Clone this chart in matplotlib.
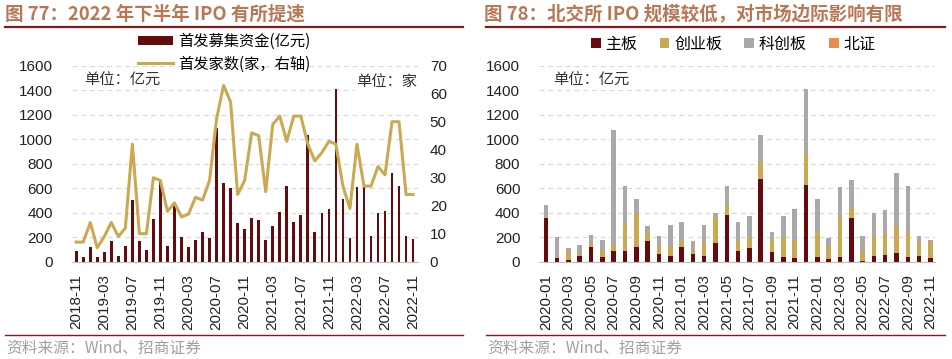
import matplotlib
matplotlib.use("Agg")
import matplotlib.pyplot as plt
from matplotlib.patches import Patch
from matplotlib.lines import Line2D
import numpy as np

plt.rcParams['font.family'] = ['Liberation Sans', 'Noto Sans CJK SC', 'DejaVu Sans']
CJK = ['Noto Sans CJK SC', 'DejaVu Sans']

# ---------------- data: chart 77 ----------------
months77 = [f"{y}-{m:02d}" for y in range(2018, 2023) for m in range(1, 13)
            if (y, m) >= (2018, 11) and (y, m) <= (2022, 11)]
ipo_amount = [90, 41, 122, 35, 82, 171, 49, 128, 503, 171, 95, 345, 647, 128,
              470, 204, 122, 177, 245, 190, 1093, 639, 598, 318, 264, 354, 340,
              177, 294, 403, 620, 326, 381, 1034, 245, 400, 427, 1406, 511, 190,
              607, 631, 209, 394, 416, 721, 617, 209, 182]
ipo_count = [7, 7, 14, 5, 9, 14, 9, 12, 42, 10, 10, 30, 29, 18, 21, 16, 17, 23,
             22, 29, 51, 63, 57, 24, 29, 46, 45, 25, 49, 52, 43, 52, 52, 42, 36,
             39, 43, 42, 27, 19, 42, 27, 27, 34, 31, 50, 50, 24, 24]

# ---------------- data: chart 78 ----------------
months78 = [f"{y}-{m:02d}" for y in range(2020, 2023) for m in range(1, 13)
            if (y, m) <= (2022, 11)]
main_board = [355, 27, 14, 44, 117, 35, 90, 90, 117, 167, 63, 44, 117, 63, 49,
              150, 382, 90, 109, 672, 76, 41, 27, 628, 35, 25, 41, 355, 8, 49,
              55, 71, 41, 44, 30]
chinext = [10, 5, 68, 19, 28, 55, 47, 224, 279, 65, 68, 87, 55, 27, 107,
           213, 82, 90, 96, 142, 110, 164, 150, 254, 205, 106, 322, 90, 68, 164,
           172, 224, 199, 114, 142]
star = [94, 168, 27, 73, 73, 90, 936, 303, 117, 57, 82, 172, 156, 82, 144,
        36, 150, 142, 172, 218, 60, 166, 249, 524, 273, 63, 246, 218, 131, 183,
        191, 428, 369, 55, 8]
bse = [0, 0, 0, 0, 0, 0, 0, 0, 0, 0, 0, 0, 0, 0, 0,
       0, 0, 0, 0, 0, 0, 0, 3, 0, 2, 0, 0, 2, 0, 5,
       0, 0, 8, 0, 0]

DARK = '#650B0E'
GOLD = '#C9AA52'
GREY = '#A9A9A9'
ORANGE = '#E88D4A'
TITLE_C = '#B97756'
RULE_C = '#7E1B1B'
TICK_C = '#222222'

W, H = 952, 359
fig = plt.figure(figsize=(W / 100, H / 100), dpi=100)

def fx(px):
    return px / W

def fy(py):
    return 1 - py / H

def style_axes(ax):
    for s in ['top', 'left', 'right']:
        ax.spines[s].set_visible(False)
    ax.spines['bottom'].set_color('#BFBFBF')
    ax.spines['bottom'].set_linewidth(0.8)
    ax.grid(axis='y', color='#D9D9D9', linestyle=(0, (4, 3)), linewidth=0.9)
    ax.set_axisbelow(True)
    ax.tick_params(axis='both', length=0, labelsize=11, colors=TICK_C)
    ax.tick_params(axis='y', pad=13.5)
    ax.tick_params(axis='x', pad=9)

# ---------- left chart ----------
ax1 = fig.add_axes([fx(72), fy(261.7), fx(346), (261.7 - 65.7) / H])
x1 = np.arange(len(months77))
ax1.bar(x1, ipo_amount, width=0.38, color=DARK, zorder=2)
ax1.set_ylim(0, 1600)
ax1.set_yticks(np.arange(0, 1601, 200))
ax1.set_xlim(-0.6, len(months77) - 0.3)
ax1.set_xticks(x1[::4])
ax1.set_xticklabels(months77[::4], rotation=90)
style_axes(ax1)

ax1b = ax1.twinx()
ax1b.plot(x1, ipo_count, color=GOLD, linewidth=2.2, zorder=3)
ax1b.set_ylim(0, 70)
ax1b.set_yticks(np.arange(0, 71, 10))
for s in ['top', 'left', 'right', 'bottom']:
    ax1b.spines[s].set_visible(False)
ax1b.tick_params(axis='y', length=0, labelsize=11, colors=TICK_C, pad=8.5)

ax1.text(0.035, 0.925, '单位：亿元', transform=ax1.transAxes, fontsize=11,
         family=CJK, color='#333333', va='center', ha='left',
         bbox=dict(facecolor='white', edgecolor='none', pad=1), zorder=4)
ax1b.text(0.998, 0.92, '单位：家', transform=ax1.transAxes, fontsize=11,
          family=CJK, color='#333333', va='center', ha='right',
          bbox=dict(facecolor='white', edgecolor='none', pad=1), zorder=4)

h1 = [Patch(facecolor=DARK, edgecolor='none'),
      Line2D([0], [0], color=GOLD, linewidth=2.2)]
fig.legend(h1, ['首发募集资金(亿元)', '首发家数(家，右轴)'],
           loc='upper left', bbox_to_anchor=(fx(138), fy(33)),
           frameon=False, prop={'family': CJK, 'size': 11},
           handlelength=2.3, handleheight=0.5, handletextpad=0.3,
           labelspacing=0.35, borderpad=0, borderaxespad=0)

# ---------- right chart ----------
ax2 = fig.add_axes([fx(539), fy(261.7), fx(396), (261.7 - 65.7) / H])
x2 = np.arange(len(months78))
mb = np.array(main_board)
cn = np.array(chinext)
st = np.array(star)
bs = np.array(bse)
ax2.bar(x2, mb, width=0.4, color=DARK, zorder=2, label='主板')
ax2.bar(x2, cn, width=0.4, bottom=mb, color=GOLD, zorder=2, label='创业板')
ax2.bar(x2, st, width=0.4, bottom=mb + cn, color=GREY, zorder=2, label='科创板')
ax2.bar(x2, bs, width=0.4, bottom=mb + cn + st, color=ORANGE, zorder=2, label='北证')
ax2.set_ylim(0, 1600)
ax2.set_yticks(np.arange(0, 1601, 200))
ax2.set_xlim(-0.6, len(months78) - 0.6)
ax2.set_xticks(x2[::2])
ax2.set_xticklabels(months78[::2], rotation=90)
style_axes(ax2)
ax2.text(0.035, 0.925, '单位：亿元', transform=ax2.transAxes, fontsize=11,
         family=CJK, color='#333333', va='center', ha='left',
         bbox=dict(facecolor='white', edgecolor='none', pad=1), zorder=4)

h2 = [Patch(facecolor=c, edgecolor='none') for c in [DARK, GOLD, GREY, ORANGE]]
fig.legend(h2, ['主板', '创业板', '科创板', '北证'], ncol=4,
           loc='upper left', bbox_to_anchor=(fx(591), fy(36)),
           frameon=False, prop={'family': CJK, 'size': 11.5},
           handlelength=0.6, handleheight=0.6, handletextpad=0.3,
           columnspacing=1.4, borderpad=0, borderaxespad=0)

# ---------- titles, rules, sources ----------
fig.text(fx(5), fy(14), '图 77：2022 年下半年 IPO 有所提速', fontsize=13.3,
         fontweight='bold', color=TITLE_C, family=CJK, va='center', ha='left')
fig.text(fx(484), fy(14), '图 78：北交所 IPO 规模较低，对市场边际影响有限', fontsize=13.3,
         fontweight='bold', color=TITLE_C, family=CJK, va='center', ha='left')
for (a, b) in [(5, 463), (486, 945)]:
    fig.add_artist(Line2D([fx(a), fx(b)], [fy(27), fy(27)], color=RULE_C, linewidth=1.6))
    fig.add_artist(Line2D([fx(a), fx(b)], [fy(335), fy(335)], color=RULE_C, linewidth=1.0))
fig.text(fx(6), fy(348), '资料来源：Wind、招商证券', fontsize=11.3, color='#A0A0A0',
         family=CJK, va='center', ha='left')
fig.text(fx(487), fy(348), '资料来源：Wind、招商证券', fontsize=11.3, color='#A0A0A0',
         family=CJK, va='center', ha='left')

fig.savefig('out.png', dpi=100)
